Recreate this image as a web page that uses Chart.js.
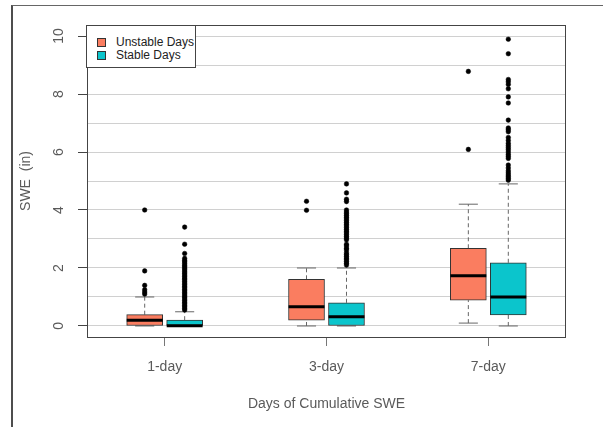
<!DOCTYPE html>
<html>
<head>
<meta charset="utf-8">
<script src="https://cdn.jsdelivr.net/npm/chart.js@4.4.1/dist/chart.umd.min.js"></script>
<style>
html,body{margin:0;padding:0;background:#fff;}
#wrap{position:relative;width:603px;height:427px;overflow:hidden;background:#fff;}
#c{position:absolute;left:0;top:0;}
#frame{position:absolute;left:11px;top:5px;width:700px;height:500px;border-left:2px solid #4d4d4d;border-top:1px solid #666;pointer-events:none;}
#legend{position:absolute;left:86px;top:25px;width:108px;height:41px;border:1px solid #444;background:#fff;font:12px "Liberation Sans",Arial,sans-serif;color:#222;pointer-events:none;}
.item{position:absolute;left:10px;height:14px;line-height:14px;white-space:nowrap;}
.sw{display:inline-block;width:7px;height:7px;border:1px solid #333;vertical-align:-1px;margin-right:10px;}
</style>
</head>
<body>
<div id="wrap">
  <canvas id="c" width="603" height="427"></canvas>
  <div id="frame"></div>
  <div id="legend"></div>
</div>
<script>
// ---------- data ----------
const categories = ['1-day', '3-day', '7-day'];
const seriesNames = ['Unstable Days', 'Stable Days'];
const yTickValues = [0, 2, 4, 6, 8, 10];
const yGridValues = [0, 1, 2, 3, 4, 5, 6, 7, 8, 9, 10];
const xTitle = 'Days of Cumulative SWE';
const yTitle = 'SWE  (in)';

// Unstable days: box-plot statistics per category
const unstableWhiskerLow  = [0.00, 0.00, 0.10];
const unstableQ1          = [0.00, 0.20, 0.89];
const unstableMedian      = [0.20, 0.66, 1.73];
const unstableQ3          = [0.39, 1.61, 2.68];
const unstableWhiskerHigh = [1.00, 2.00, 4.20];
const unstableOutliers1 = [4.00, 1.90, 1.40, 1.25, 1.17, 1.10];
const unstableOutliers3 = [4.30, 3.99];
const unstableOutliers7 = [8.78, 6.09];

// Stable days: box-plot statistics per category
const stableWhiskerLow  = [0.00, 0.00, 0.00];
const stableQ1          = [0.00, 0.00, 0.38];
const stableMedian      = [0.01, 0.32, 1.00];
const stableQ3          = [0.20, 0.80, 2.18];
const stableWhiskerHigh = [0.49, 2.00, 4.90];
const stableOutliers1 = [0.55, 0.60, 0.66, 0.71, 0.77, 0.82, 0.88, 0.93, 0.99, 1.04, 1.10, 1.15, 1.21,
  1.26, 1.32, 1.37, 1.43, 1.48, 1.54, 1.60, 1.65, 1.71, 1.76, 1.82, 1.87, 1.93, 1.98, 2.04, 2.09,
  2.15, 2.21, 2.26, 2.33, 2.50, 2.82, 3.41];
const stableOutliers3 = [2.10, 2.16, 2.22, 2.28, 2.34, 2.40, 2.46, 2.52, 2.62, 2.68, 2.76, 2.82,
  2.97, 3.03, 3.09, 3.15, 3.21, 3.27, 3.33, 3.39, 3.45, 3.51, 3.57, 3.63, 3.69, 3.75, 3.81, 3.87,
  3.93, 4.00, 4.29, 4.37, 4.59, 4.90];
const stableOutliers7 = [5.03, 5.09, 5.15, 5.21, 5.28, 5.35, 5.45, 5.55, 5.78, 5.85, 5.92, 6.00,
  6.08, 6.15, 6.22, 6.30, 6.40, 6.50, 6.70, 6.77, 6.83, 7.10, 7.69, 7.90, 8.18, 8.33, 8.42, 8.50,
  9.39, 9.89];

// ---------- styles / layout ----------
const colors = ['#FA7D60', '#0BC5CC'];
const groupOffset = 0.1235;  // x-units between category and box centre
const boxHalf = 0.111;       // half of box width in x-units
const capHalf = 0.059;       // half of whisker staple width

const seriesDefs = [
  {name: seriesNames[0], color: colors[0], lo: unstableWhiskerLow, q1: unstableQ1, med: unstableMedian,
   q3: unstableQ3, hi: unstableWhiskerHigh, out: [unstableOutliers1, unstableOutliers3, unstableOutliers7], off: -groupOffset},
  {name: seriesNames[1], color: colors[1], lo: stableWhiskerLow, q1: stableQ1, med: stableMedian,
   q3: stableQ3, hi: stableWhiskerHigh, out: [stableOutliers1, stableOutliers3, stableOutliers7], off: groupOffset}
];

const datasets = [];
seriesDefs.forEach(s => {
  const cx = categories.map((c, i) => i + 1 + s.off);
  datasets.push({
    type: 'bar', label: s.name, order: 3,
    data: categories.map((c, i) => ({x: cx[i], y: [s.q1[i], s.q3[i]]})),
    backgroundColor: s.color, borderColor: '#333', borderWidth: 1, borderSkipped: false,
    barThickness: 36, grouped: false
  });
  const whisk = [], caps = [], meds = [], pts = [];
  categories.forEach((c, i) => {
    whisk.push({x: cx[i], y: s.q3[i]}, {x: cx[i], y: s.hi[i]}, {x: cx[i], y: null});
    whisk.push({x: cx[i], y: s.lo[i]}, {x: cx[i], y: s.q1[i]}, {x: cx[i], y: null});
    caps.push({x: cx[i] - capHalf, y: s.hi[i]}, {x: cx[i] + capHalf, y: s.hi[i]}, {x: cx[i], y: null});
    caps.push({x: cx[i] - capHalf, y: s.lo[i]}, {x: cx[i] + capHalf, y: s.lo[i]}, {x: cx[i], y: null});
    meds.push({x: cx[i] - boxHalf, y: s.med[i]}, {x: cx[i] + boxHalf, y: s.med[i]}, {x: cx[i], y: null});
    s.out[i].forEach(v => pts.push({x: cx[i], y: v}));
  });
  datasets.push({type: 'line', order: 4, data: whisk, borderColor: '#666', borderWidth: 1,
    borderDash: [4, 3], pointRadius: 0, spanGaps: false, tension: 0, fill: false});
  datasets.push({type: 'line', order: 4, data: caps, borderColor: '#666', borderWidth: 1,
    pointRadius: 0, spanGaps: false, tension: 0, fill: false});
  datasets.push({type: 'line', order: 1, data: meds, borderColor: '#000', borderWidth: 3,
    pointRadius: 0, spanGaps: false, tension: 0, fill: false, borderCapStyle: 'butt'});
  datasets.push({type: 'scatter', order: 0, data: pts, pointRadius: 2.3, pointBackgroundColor: '#000',
    pointBorderColor: '#000', pointBorderWidth: 0.5, showLine: false});
});

// HTML legend
const legendEl = document.getElementById('legend');
seriesNames.forEach((n, i) => {
  const d = document.createElement('div');
  d.className = 'item';
  d.style.top = (9 + i * 12.5) + 'px';
  d.innerHTML = '<span class="sw" style="background:' + colors[i] + '"></span>';
  d.appendChild(document.createTextNode(n));
  legendEl.appendChild(d);
});

const fontFam = '"Liberation Sans", Arial, sans-serif';
const framePlugin = {
  id: 'frame',
  afterDraw(chart) {
    const a = chart.chartArea, ctx = chart.ctx;
    ctx.save();
    ctx.strokeStyle = '#444';
    ctx.lineWidth = 1;
    ctx.strokeRect(Math.round(a.left) + 0.5, Math.round(a.top) + 0.5,
      Math.round(a.right - a.left) - 1, Math.round(a.bottom - a.top));
    // rotated y tick labels (R style, reading bottom-to-top), placed via the y scale
    const ys = chart.scales.y;
    ctx.fillStyle = '#5a5a5a';
    ctx.font = '14px ' + fontFam;
    ctx.textAlign = 'center';
    ctx.textBaseline = 'middle';
    yTickValues.forEach(v => {
      ctx.save();
      ctx.translate(a.left - 28, ys.getPixelForValue(v));
      ctx.rotate(-Math.PI / 2);
      ctx.fillText(String(v), 0, 0);
      ctx.restore();
    });
    ctx.restore();
  }
};

new Chart(document.getElementById('c'), {
  type: 'bar',
  data: {datasets},
  options: {
    responsive: false, animation: false, devicePixelRatio: 1,
    layout: {padding: {top: 25, right: 37, left: 0, bottom: 0}},
    plugins: {legend: {display: false}, tooltip: {enabled: false}},
    scales: {
      x: {
        type: 'linear', min: 0.52, max: 3.48, offset: false,
        afterBuildTicks: s => { s.ticks = categories.map((c, i) => ({value: i + 1})); },
        afterFit: s => { s.height = 90; },
        ticks: {callback: (v, i) => categories[i], color: '#5a5a5a', padding: 13,
          font: {family: fontFam, size: 14}, maxRotation: 0, autoSkip: false},
        grid: {drawOnChartArea: false, drawTicks: true, tickLength: 9, tickColor: '#777', offset: false},
        border: {display: false},
        title: {display: true, text: xTitle, color: '#5a5a5a', font: {family: fontFam, size: 14},
          padding: {top: 0, bottom: 14.6}}
      },
      y: {
        type: 'linear', min: -0.38, max: 10.38,
        afterBuildTicks: s => { s.ticks = yGridValues.map(v => ({value: v})); },
        afterFit: s => { s.width = 87; },
        ticks: {display: false},
        grid: {color: '#d0d0d0', borderDash: [2, 2], lineWidth: 1, tickLength: 9,
          tickColor: ctx => (yTickValues.includes(ctx.tick.value) ? '#444' : 'rgba(0,0,0,0)'),
          tickBorderDash: [], tickWidth: 1},
        border: {display: false},
        title: {display: true, text: yTitle, color: '#5a5a5a', font: {family: fontFam, size: 14},
          padding: {top: 17.6, bottom: 0}}
      }
    }
  },
  plugins: [framePlugin]
});
</script>
</body>
</html>
